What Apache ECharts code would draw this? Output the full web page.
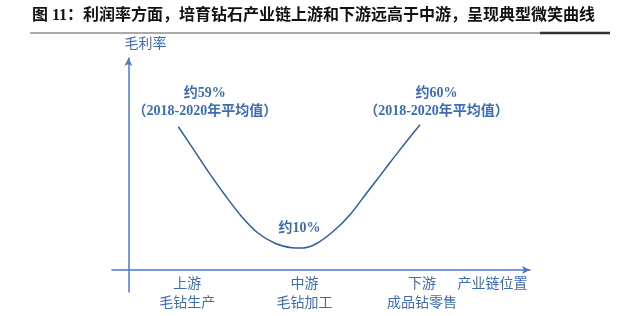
<!DOCTYPE html>
<html>
<head>
<meta charset="utf-8">
<script src="https://cdn.jsdelivr.net/npm/echarts@6/dist/echarts.min.js"></script>
<style>html,body{margin:0;padding:0;background:#fff;}#c{width:640px;height:316px;}</style>
</head>
<body>
<div id="c"></div>
<script>
// Chart data
const titleText = '图 11：利润率方面，培育钻石产业链上游和下游远高于中游，呈现典型微笑曲线';
const yAxisName = '毛利率';
// x: position along the industry chain (0.5 upstream, 1.5 midstream, 2.5 downstream)
const curveX = [0.425, 0.567, 0.680, 0.822, 0.965, 1.106, 1.248, 1.390, 1.487, 1.603, 1.745, 1.887, 2.029, 2.171, 2.313, 2.483];
// y: gross margin (%)
const curveY = [58.8, 48.6, 40.4, 30.8, 21.9, 15.1, 11.0, 9.2, 9.1, 10.9, 15.9, 22.7, 31.6, 40.5, 49.4, 59.6];
const tickValues = [0.5, 1.5, 2.5, 3.1];
const tickLabels = ['上游\n毛钻生产', '中游\n毛钻加工', '下游\n成品钻零售', '产业链位置'];
const noteIndex = [0, 8, 15];
const noteText = ['约59%\n（2018-2020年平均值）', '约10%', '约60%\n（2018-2020年平均值）'];

const blue = '#3d6cb4';
const axisBlue = '#4a77c6';
const fontFam = '"Liberation Serif", "Noto Sans CJK SC", serif';
const notePos = [[27, -6], [-3, -10], [17, -4]];

const seriesData = curveX.map((x, i) => {
  const item = { value: [x, curveY[i]] };
  const k = noteIndex.indexOf(i);
  if (k >= 0) {
    item.label = {
      show: true, position: notePos[k], align: 'center', verticalAlign: 'bottom',
      formatter: noteText[k], color: blue, fontSize: 14, fontWeight: 'bold',
      fontFamily: fontFam, lineHeight: 18
    };
  }
  return item;
});

const chart = echarts.init(document.getElementById('c'), null, { renderer: 'canvas' });
chart.setOption({
  backgroundColor: '#fff',
  animation: false,
  graphic: [
    { type: 'text', left: 32, top: 8, style: { text: titleText, fill: '#111', font: 'bold 16px ' + fontFam } },
    { type: 'line', shape: { x1: 30, y1: 33, x2: 540, y2: 33 }, style: { stroke: '#555', lineWidth: 1 } },
    { type: 'line', shape: { x1: 540, y1: 33, x2: 610, y2: 33 }, style: { stroke: '#333', lineWidth: 2.5 } }
  ],
  grid: { left: 112, right: 110, top: 58, bottom: 24, containLabel: false, outerBoundsMode: 'none' },
  xAxis: {
    type: 'value', min: -0.14, max: 3.42,
    axisLine: { show: true, onZero: true, symbol: ['none', 'arrow'], symbolSize: [6, 8], lineStyle: { color: axisBlue, width: 1.5 } },
    axisTick: { show: false },
    splitLine: { show: false },
    axisLabel: {
      show: true, customValues: tickValues, margin: -17,
      color: blue, fontSize: 14, lineHeight: 19, fontFamily: fontFam, verticalAlign: 'top',
      formatter: v => { const i = tickValues.findIndex(t => Math.abs(t - v) < 1e-6); return i >= 0 ? tickLabels[i] : ''; }
    }
  },
  yAxis: {
    type: 'value', min: -9, max: 87,
    name: yAxisName, nameLocation: 'end', nameGap: 7,
    nameTextStyle: { color: blue, fontSize: 14, fontFamily: fontFam, align: 'left', padding: [0, 0, 0, -4] },
    axisLine: { show: true, onZero: true, symbol: ['none', 'arrow'], symbolSize: [6, 8], lineStyle: { color: axisBlue, width: 1.5 } },
    axisTick: { show: false },
    axisLabel: { show: false },
    splitLine: { show: false }
  },
  series: [{
    type: 'line', data: seriesData, smooth: 0.3, showSymbol: true, symbol: 'circle', symbolSize: 1,
    itemStyle: { color: 'rgba(0,0,0,0)' },
    lineStyle: { color: '#2f5c9c', width: 1.5 },
    label: { show: false },
    labelLayout: { hideOverlap: false },
    emphasis: { disabled: true }
  }]
});
</script>
</body>
</html>
